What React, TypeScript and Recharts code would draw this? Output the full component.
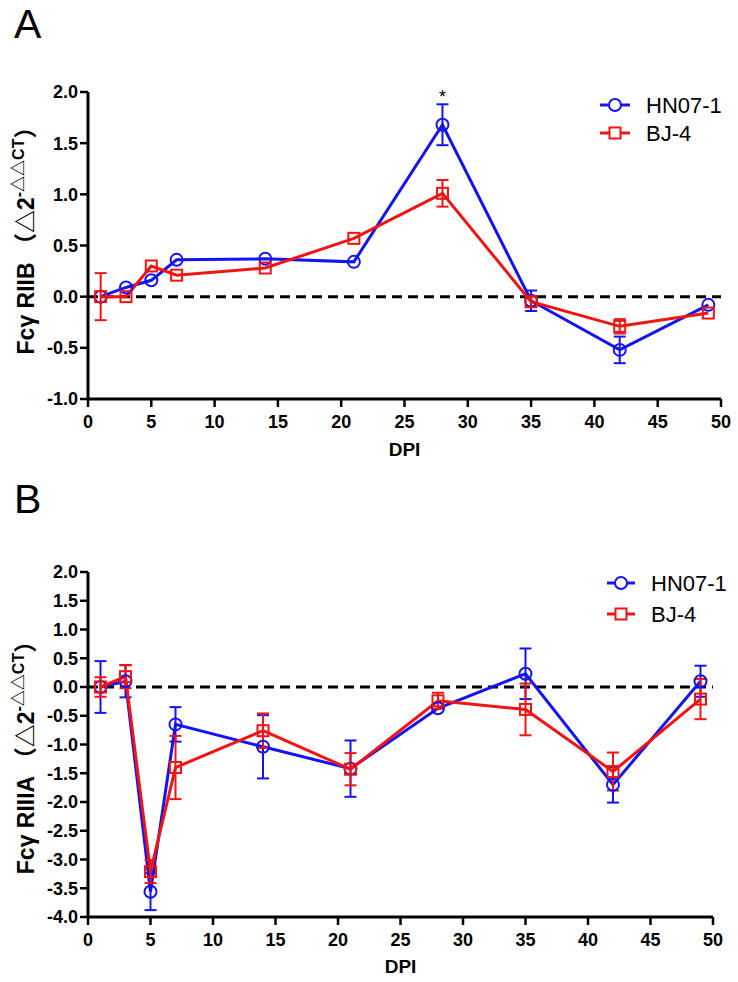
import { ErrorBar, LabelList, Legend, Line, LineChart, ReferenceLine, XAxis, YAxis } from "recharts"

const FONT = "'Liberation Sans', Arial, 'Noto Sans CJK SC', sans-serif"
const BLUE = "#1414f0"
const RED = "#f01414"

// days post infection
const dpi = [1, 3, 5, 7, 14, 21, 28, 35, 42, 49]

// panel A: Fcγ RIIB
const hnA = [0, 0.09, 0.16, 0.36, 0.37, 0.34, 1.68, -0.04, -0.52, -0.08]
const hnAErr = [0, 0, 0, 0, 0, 0, 0.2, 0.1, 0.13, 0]
const bjA = [0, 0, 0.3, 0.21, 0.28, 0.57, 1.01, -0.05, -0.29, -0.16]
const bjAErr = [0.23, 0, 0, 0, 0, 0, 0.13, 0.05, 0.07, 0]
const sigA = ["", "", "", "", "", "", "*", "", "", ""]

// panel B: Fcγ RIIIA
const hnB = [0, 0.1, -3.56, -0.65, -1.04, -1.42, -0.37, 0.23, -1.7, 0.1]
const hnBErr = [0.45, 0.28, 0.32, 0.3, 0.55, 0.49, 0, 0.44, 0.31, 0.27]
const bjB = [0, 0.18, -3.21, -1.4, -0.76, -1.43, -0.24, -0.39, -1.47, -0.21]
const bjBErr = [0.17, 0.2, 0.2, 0.55, 0.3, 0.28, 0.14, 0.45, 0.33, 0.35]

const xTicks = [0, 5, 10, 15, 20, 25, 30, 35, 40, 45, 50]
const yTicksA = [-1, -0.5, 0, 0.5, 1, 1.5, 2]
const yTicksB = [-4, -3.5, -3, -2.5, -2, -1.5, -1, -0.5, 0, 0.5, 1, 1.5, 2]
const seriesNames = ["HN07-1", "BJ-4"]

const rowsA = dpi.map((d, i) => ({ dpi: d, hn: hnA[i], hnErr: hnAErr[i], bj: bjA[i], bjErr: bjAErr[i], sig: sigA[i] }))
const rowsB = dpi.map((d, i) => ({ dpi: d, hn: hnB[i], hnErr: hnBErr[i], bj: bjB[i], bjErr: bjBErr[i] }))

const tickStyle = { fontSize: 18, fontWeight: "bold", fill: "#000", fontFamily: FONT }

const circleDot = (p: any) => (
  <circle key={`c-${p.index}`} cx={p.cx} cy={p.cy} r={6} fill="none" stroke={BLUE} strokeWidth={2} />
)
const squareDot = (p: any) => (
  <rect key={`s-${p.index}`} x={p.cx - 5.5} y={p.cy - 5.5} width={11} height={11} fill="none" stroke={RED} strokeWidth={2} />
)

const renderSig = (p: any) => {
  if (!p.value) return null
  return (
    <text x={p.x} y={p.y - 22} textAnchor="middle" fontSize={18} fontFamily={FONT} fill="#000">
      {p.value}
    </text>
  )
}

const yLabel = (name: string, cy: number) => () => (
  <text
    transform={`translate(34, ${cy}) rotate(-90)`}
    textAnchor="middle"
    fontSize={23}
    fontWeight="bold"
    fontFamily={FONT}
    fill="#000"
  >
    <tspan>{name} （△2</tspan>
    <tspan fontSize={16} dy={-10}>-△△CT</tspan>
    <tspan dy={10}>）</tspan>
  </text>
)

const dpiLabel = (off: number) => (props: any) => {
  const vb = props.viewBox
  return (
    <text x={vb.x + vb.width / 2} y={vb.y + off} textAnchor="middle" fontSize={19} fontWeight="bold" fontFamily={FONT} fill="#000">
      DPI
    </text>
  )
}

const legendBox = (gap: number, lineW: number) => () => (
  <svg width={140} height={70} style={{ display: "block" }}>
    {seriesNames.map((n, i) => {
      const y = 15 + i * gap
      const c = i === 0 ? BLUE : RED
      const mid = lineW / 2
      return (
        <g key={n}>
          <line x1={0} x2={lineW} y1={y} y2={y} stroke={c} strokeWidth={3} />
          {i === 0 ? (
            <circle cx={mid} cy={y} r={6} fill="#fff" stroke={c} strokeWidth={2} />
          ) : (
            <rect x={mid - 5.5} y={y - 5.5} width={11} height={11} fill="#fff" stroke={c} strokeWidth={2} />
          )}
          <text x={lineW + 16} y={y + 8} fontSize={22} fontFamily={FONT} fill="#000">
            {n}
          </text>
        </g>
      )
    })}
  </svg>
)

function Panel(props: {
  data: any[]
  height: number
  top: number
  right: number
  xHeight: number
  yDomain: number[]
  yTicks: number[]
  label: string
  labelY: number
  dpiOff: number
  legendTop: number
  legendLeft: number
  legendGap: number
  legendLine: number
  sig?: boolean
}) {
  return (
    <LineChart
      width={738}
      height={props.height}
      data={props.data}
      margin={{ top: props.top, right: props.right, bottom: 0, left: 0 }}
    >
      <XAxis
        dataKey="dpi"
        type="number"
        domain={[0, 50]}
        ticks={xTicks}
        interval={0}
        height={props.xHeight}
        tick={tickStyle}
        tickSize={8}
        tickMargin={8}
        axisLine={{ stroke: "#000", strokeWidth: 3 }}
        tickLine={{ stroke: "#000", strokeWidth: 2.5 }}
        label={{ content: dpiLabel(props.dpiOff) }}
      />
      <YAxis
        type="number"
        domain={props.yDomain}
        ticks={props.yTicks}
        interval={0}
        width={88}
        tick={tickStyle}
        tickSize={8}
        tickMargin={2}
        tickFormatter={(v: number) => v.toFixed(1)}
        axisLine={{ stroke: "#000", strokeWidth: 3 }}
        tickLine={{ stroke: "#000", strokeWidth: 2.5 }}
        label={{ content: yLabel(props.label, props.labelY) }}
      />
      <ReferenceLine y={0} stroke="#000" strokeWidth={3} strokeDasharray="10 6" />
      <Line dataKey="hn" stroke={BLUE} strokeWidth={3} dot={circleDot} isAnimationActive={false}>
        <ErrorBar dataKey="hnErr" direction="y" width={6} stroke={BLUE} strokeWidth={2} />
        {props.sig && <LabelList dataKey="sig" content={renderSig} />}
      </Line>
      <Line dataKey="bj" stroke={RED} strokeWidth={3} dot={squareDot} isAnimationActive={false}>
        <ErrorBar dataKey="bjErr" direction="y" width={6} stroke={RED} strokeWidth={2} />
      </Line>
      <Legend
        layout="vertical"
        align="center"
        verticalAlign="middle"
        content={legendBox(props.legendGap, props.legendLine)}
        wrapperStyle={{ top: props.legendTop, left: props.legendLeft, width: 140, height: 70 }}
      />
    </LineChart>
  )
}

export default function App() {
  return (
    <div style={{ position: "absolute", left: 0, top: 0, width: 738, height: 982, background: "#fff", fontFamily: FONT }}>
      <svg width={60} height={60} style={{ position: "absolute", left: 0, top: 0 }}>
        <text x={14} y={38} fontSize={41} fontFamily={FONT} fill="#000">A</text>
      </svg>
      <svg width={60} height={60} style={{ position: "absolute", left: 0, top: 470 }}>
        <text x={14} y={43} fontSize={41} fontFamily={FONT} fill="#000">B</text>
      </svg>
      <div style={{ position: "absolute", left: 0, top: 0 }}>
        <Panel
          data={rowsA}
          height={470}
          top={92}
          right={17}
          xHeight={71}
          yDomain={[-1, 2]}
          yTicks={yTicksA}
          label="Fcγ RIIB"
          labelY={235}
          dpiOff={57}
          legendTop={90}
          legendLeft={600}
          legendGap={28}
          legendLine={30}
          sig
        />
      </div>
      <div style={{ position: "absolute", left: 0, top: 480 }}>
        <Panel
          data={rowsB}
          height={502}
          top={92}
          right={25}
          xHeight={65}
          yDomain={[-4, 2]}
          yTicks={yTicksB}
          label="Fcγ RIIIA"
          labelY={272}
          dpiOff={56}
          legendTop={88}
          legendLeft={607}
          legendGap={31}
          legendLine={28}
        />
      </div>
    </div>
  )
}
